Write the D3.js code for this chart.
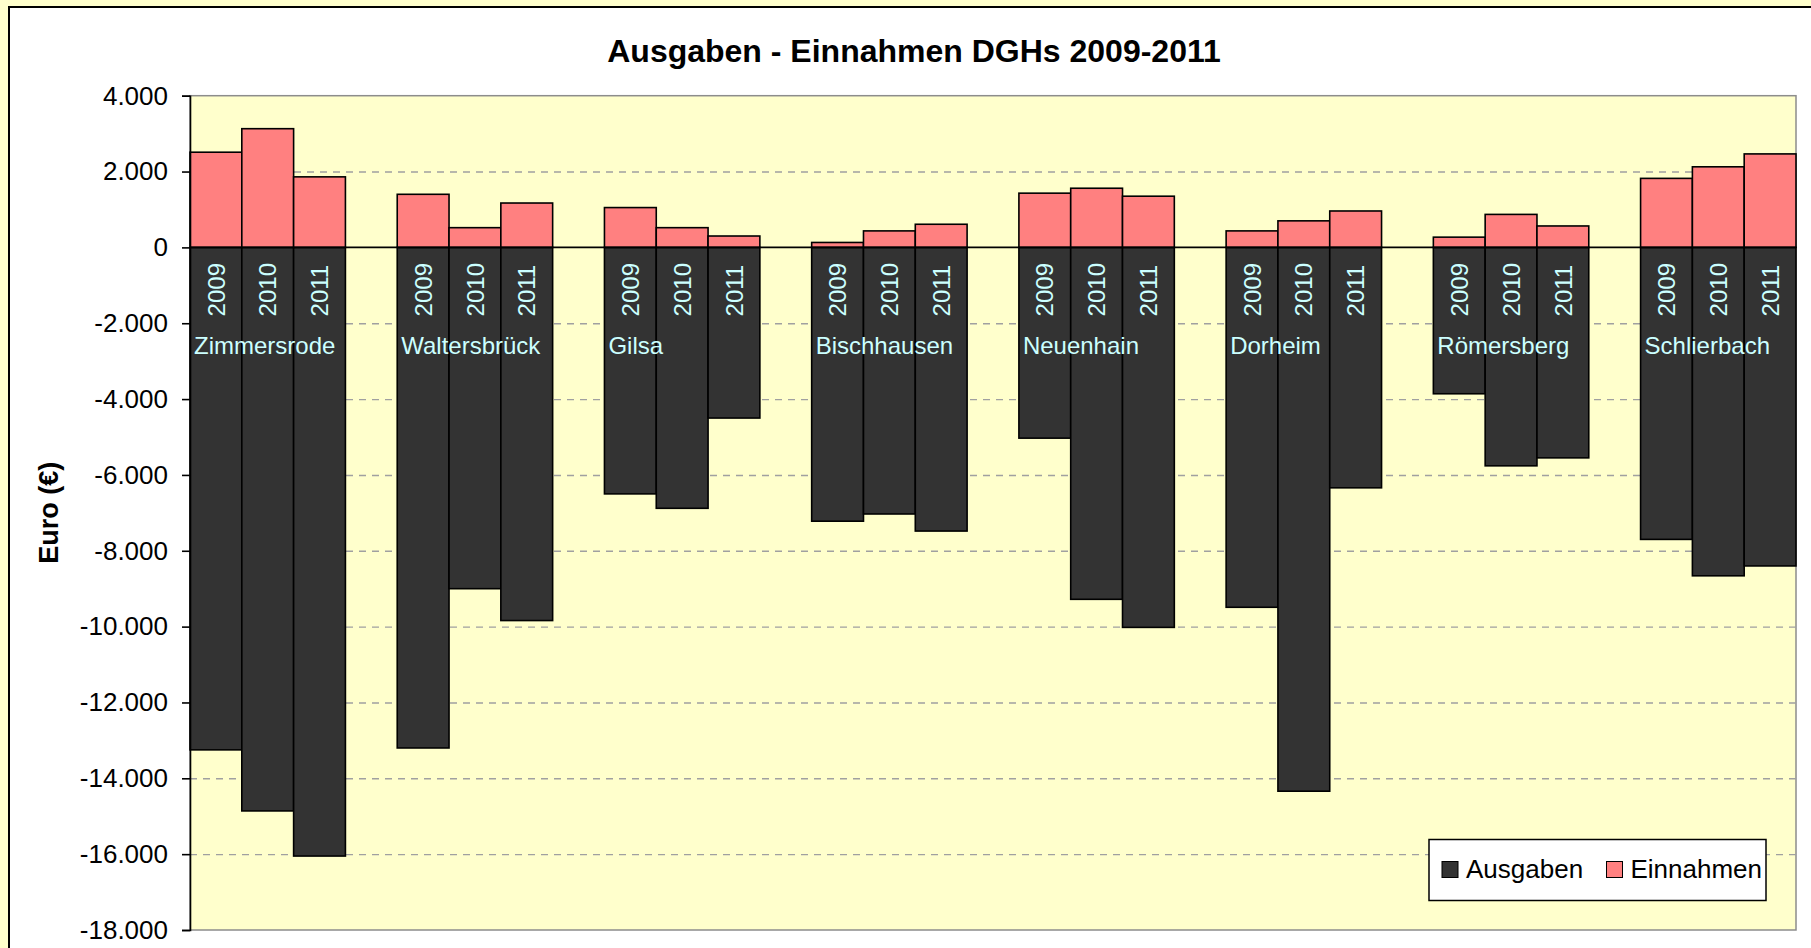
<!DOCTYPE html>
<html>
<head>
<meta charset="utf-8">
<script src="https://cdnjs.cloudflare.com/ajax/libs/d3/7.8.5/d3.min.js"></script>
<style>
  body { margin: 0; background: #ffffcc; }
  text { font-family: Arial, "Liberation Sans", sans-serif; }
</style>
</head>
<body>
<div id="chart"></div>
<script>
// ------------------------------ Daten ------------------------------
const villages = ["Zimmersrode", "Waltersbrück", "Gilsa", "Bischhausen",
                  "Neuenhain", "Dorheim", "Römersberg", "Schlierbach"];
const years = ["2009", "2010", "2011"];

// Ausgaben (negativ), je Ort 2009 / 2010 / 2011
const ausgaben = [
  [-13250, -14860, -16050],
  [-13200, -9000, -9840],
  [-6500, -6880, -4500],
  [-7220, -7030, -7480],
  [-5030, -9280, -10020],
  [-9490, -14340, -6340],
  [-3860, -5760, -5550],
  [-7700, -8660, -8400]
];
// Einnahmen (positiv)
const einnahmen = [
  [2510, 3130, 1860],
  [1400, 520, 1170],
  [1050, 520, 300],
  [130, 435, 610],
  [1430, 1560, 1350],
  [435, 700, 960],
  [270, 870, 565],
  [1820, 2125, 2465]
];

const yTicks = d3.range(-18000, 4001, 2000);
const seriesNames = ["Ausgaben", "Einnahmen"];

// ------------------------------ Grafik ------------------------------
const W = 1811, H = 948;
const plot = {left: 190, right: 1796, top: 95.7, bottom: 930};
const COLOR = {Ausgaben: "#333333", Einnahmen: "#ff8080"};
const LABEL = "#ccffff";

// Kategorien: 3 Jahre je Ort plus eine leere Spalte zwischen den Orten
let slots = [];
villages.forEach((v, i) => {
  years.forEach(y => slots.push(v + "|" + y));
  if (i < villages.length - 1) slots.push("gap" + i);
});

let rows = [];
villages.forEach((v, i) => {
  years.forEach((y, j) => {
    rows.push({village: v, year: y, key: v + "|" + y,
               aus: ausgaben[i][j], ein: einnahmen[i][j]});
  });
});

const x = d3.scaleBand().domain(slots).range([plot.left, plot.right])
  .paddingInner(0).paddingOuter(0);
const y = d3.scaleLinear().domain([-18000, 4000]).range([plot.bottom, plot.top]);

const de = d3.formatLocale({decimal: ",", thousands: ".", grouping: [3],
                            currency: ["", " €"], minus: "-"});
const fmt = de.format(",");

const svg = d3.select("#chart").append("svg")
  .attr("width", W).attr("height", H);

// Diagrammfläche
svg.append("rect")
  .attr("x", 9).attr("y", 7).attr("width", W + 20).attr("height", H + 20)
  .attr("fill", "#ffffff").attr("stroke", "#000").attr("stroke-width", 2);

svg.append("rect")
  .attr("x", plot.left).attr("y", plot.top)
  .attr("width", plot.right - plot.left).attr("height", plot.bottom - plot.top)
  .attr("fill", "#ffffcc").attr("stroke", "#8c8c8c").attr("stroke-width", 1.5);

// Gitternetz
const grid = svg.append("g")
  .attr("transform", "translate(" + plot.left + ",0)")
  .call(d3.axisLeft(y).tickValues(yTicks.filter(t => t !== 0 && t !== 4000 && t !== -18000))
    .tickSize(-(plot.right - plot.left)).tickFormat(""));
grid.select(".domain").remove();
grid.selectAll("line").attr("stroke", "#a0a0a0").attr("stroke-width", 1.4)
  .attr("stroke-dasharray", "7,6");

// Balken
const bars = svg.append("g").attr("stroke", "#000").attr("stroke-width", 1.6);
bars.selectAll(".aus").data(rows).enter().append("rect")
  .attr("class", "aus")
  .attr("x", d => x(d.key)).attr("width", x.bandwidth())
  .attr("y", y(0)).attr("height", d => y(d.aus) - y(0))
  .attr("fill", COLOR.Ausgaben);
bars.selectAll(".ein").data(rows).enter().append("rect")
  .attr("class", "ein")
  .attr("x", d => x(d.key)).attr("width", x.bandwidth())
  .attr("y", d => y(d.ein)).attr("height", d => y(0) - y(d.ein))
  .attr("fill", COLOR.Einnahmen);

// Nulllinie
svg.append("line")
  .attr("x1", plot.left).attr("x2", plot.right)
  .attr("y1", y(0)).attr("y2", y(0))
  .attr("stroke", "#000").attr("stroke-width", 1.6);

// Y-Achse
const yAxis = svg.append("g")
  .attr("transform", "translate(" + plot.left + ",0)")
  .call(d3.axisLeft(y).tickValues(yTicks).tickSize(8).tickPadding(14).tickFormat(fmt));
yAxis.select(".domain").attr("stroke", "#000").attr("stroke-width", 1.6);
yAxis.selectAll("line").attr("stroke", "#000").attr("stroke-width", 1.6);
yAxis.selectAll("text").attr("font-size", 26).attr("fill", "#000")
  .attr("font-family", "Arial, 'Liberation Sans', sans-serif");

// Jahres-Beschriftung (gedreht)
svg.append("g").selectAll("text").data(rows).enter().append("text")
  .attr("transform", d => "translate(" + (x(d.key) + x.bandwidth() / 2) + "," + (y(0) + 69) + ") rotate(-90)")
  .attr("dy", "0.36em")
  .attr("font-size", 24).attr("fill", LABEL)
  .text(d => d.year);

// Ortsnamen
svg.append("g").selectAll("text").data(villages).enter().append("text")
  .attr("x", v => x(v + "|2009") + 4)
  .attr("y", y(0) + 107)
  .attr("font-size", 24).attr("fill", LABEL)
  .text(v => v);

// Titel
svg.append("text")
  .attr("x", 914).attr("y", 62)
  .attr("text-anchor", "middle")
  .attr("font-size", 32).attr("font-weight", "bold")
  .text("Ausgaben - Einnahmen DGHs 2009-2011");

svg.append("text")
  .attr("transform", "translate(58," + ((plot.top + plot.bottom) / 2) + ") rotate(-90)")
  .attr("text-anchor", "middle")
  .attr("font-size", 27).attr("font-weight", "bold")
  .text("Euro (€)");

// Legende
const legend = svg.append("g").attr("transform", "translate(1429,839.5)");
legend.append("rect")
  .attr("width", 337).attr("height", 61)
  .attr("fill", "#fff").attr("stroke", "#000").attr("stroke-width", 1.5);
const item = legend.selectAll(".item").data(seriesNames).enter().append("g")
  .attr("transform", (d, i) => "translate(" + (13 + i * 164.5) + ",22)");
item.append("rect")
  .attr("width", 16).attr("height", 16)
  .attr("fill", d => COLOR[d]).attr("stroke", "#000").attr("stroke-width", 1);
item.append("text")
  .attr("x", 24).attr("y", 16)
  .attr("font-size", 26)
  .text(d => d);
</script>
</body>
</html>
